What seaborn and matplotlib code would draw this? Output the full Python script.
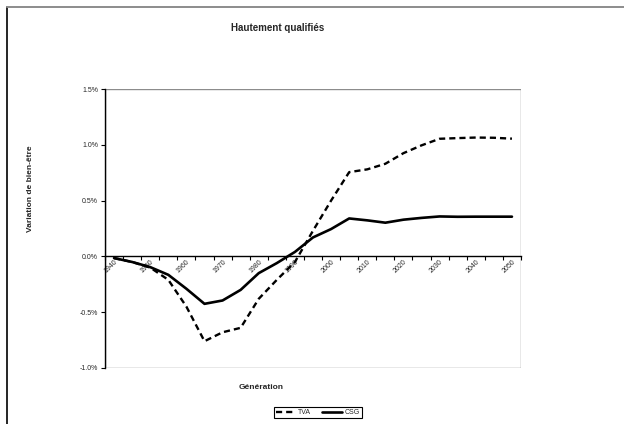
import matplotlib
matplotlib.use("Agg")
import matplotlib.pyplot as plt
from matplotlib.lines import Line2D
from matplotlib.patches import Rectangle
from matplotlib.ticker import FixedLocator, FuncFormatter
import numpy as np
import pandas as pd
import seaborn as sns

# Generations (5-year steps), labelled every 10 years
generations = list(range(1940, 2051, 5))
tick_labels = [str(y) for y in range(1940, 2051, 10)]

# Welfare variation, in percent
tva = [-0.015, -0.05, -0.10, -0.21, -0.45, -0.76, -0.68, -0.64, -0.38, -0.21,
       -0.05, 0.23, 0.50, 0.755, 0.78, 0.83, 0.925, 0.995, 1.054, 1.06,
       1.065, 1.063, 1.055]
csg = [-0.015, -0.05, -0.096, -0.165, -0.29, -0.425, -0.395, -0.30, -0.15, -0.06,
       0.04, 0.17, 0.245, 0.34, 0.323, 0.302, 0.329, 0.345, 0.358, 0.355,
       0.356, 0.356, 0.356]

sns.set_style("white")
plt.rcParams["font.family"] = ["Liberation Sans", "DejaVu Sans"]

df = pd.DataFrame({
    "pos": np.arange(len(generations)),
    "TVA": tva,
    "CSG": csg,
})

fig = plt.figure(figsize=(6.24, 4.24), dpi=100)
ax = fig.add_axes([105 / 624, 1 - 368 / 424, (521 - 105) / 624, (368 - 89) / 424])

sns.lineplot(data=df, x="pos", y="TVA", ax=ax, color="black", lw=1.7,
             linestyle=(0, (2.6, 1.7)), label="TVA")
sns.lineplot(data=df, x="pos", y="CSG", ax=ax, color="black", lw=1.9,
             label="CSG")

ax.set_xlim(-0.5, len(generations) - 0.5)
ax.set_ylim(-1.0, 1.5)

# Plot-area frame in grey, value axis in black, category axis on the zero line
for side in ["top", "right", "bottom", "left"]:
    ax.spines[side].set_visible(False)
ax.add_patch(Rectangle((0, 0), 1, 1, transform=ax.transAxes, fill=False,
                       edgecolor="#8c8c8c", lw=1.0, zorder=0.5))
ax.spines["left"].set_visible(True)
ax.spines["left"].set_color("black")
ax.spines["left"].set_linewidth(1.0)
ax.spines["left"].set_zorder(3)
ax.spines["bottom"].set_visible(True)
ax.spines["bottom"].set_position(("data", 0))
ax.spines["bottom"].set_color("black")
ax.spines["bottom"].set_linewidth(1.0)

ax.set_yticks([-1.0, -0.5, 0.0, 0.5, 1.0, 1.5])
ax.yaxis.set_major_formatter(FuncFormatter(lambda v, p: f"{v:.1f}%"))
ax.tick_params(axis="y", which="major", direction="out", length=3, width=0.8,
               color="black", labelsize=5, pad=2, left=True)

label_pos = [generations.index(int(t)) for t in tick_labels]
ax.xaxis.set_major_locator(FixedLocator(label_pos))
ax.set_xticklabels(tick_labels)
ax.xaxis.set_minor_locator(FixedLocator(np.arange(-0.5, len(generations), 1.0)))
ax.tick_params(axis="x", which="major", length=0, labelsize=5, pad=1.5, bottom=True)
ax.tick_params(axis="x", which="minor", direction="out", length=3, width=0.8,
               color="black", bottom=True)
for lab in ax.get_xticklabels():
    lab.set_rotation(45)
    lab.set_ha("right")
    lab.set_va("top")
    lab.set_rotation_mode("anchor")

ax.set_xlabel("")
ax.set_ylabel("")
ax.grid(False)
ax.get_legend().remove()

fig.text(278 / 624, 1 - 28 / 424, "Hautement qualifiés", ha="center", va="center",
         fontsize=7, fontweight="bold")
fig.text(261 / 624, 1 - 387.5 / 424, "Génération", ha="center", va="center",
         fontsize=6, fontweight="bold")
fig.text(31 / 624, 1 - 189 / 424, "Variation de bien-être", ha="center", va="center",
         rotation=90, fontsize=6, fontweight="bold")

handles = ax.get_lines()[:2]
leg = fig.legend(handles, ["TVA", "CSG"], loc="center",
                 bbox_to_anchor=(318 / 624, 1 - 412.5 / 424), ncol=2, fontsize=5,
                 frameon=True, fancybox=False, framealpha=1, edgecolor="black",
                 handlelength=2.8, handletextpad=0.4, columnspacing=1.6,
                 borderpad=0.35, borderaxespad=0)
leg.get_frame().set_linewidth(0.8)

# Chart-area border (left and top edges)
fig.add_artist(Line2D([6.5 / 624, 6.5 / 624], [0, 1 - 6.5 / 424], transform=fig.transFigure,
                      color="black", lw=1.2))
fig.add_artist(Line2D([6.5 / 624, 1], [1 - 6.5 / 424, 1 - 6.5 / 424], transform=fig.transFigure,
                      color="#8c8c8c", lw=1.4))

fig.savefig("out.png", dpi=100)
